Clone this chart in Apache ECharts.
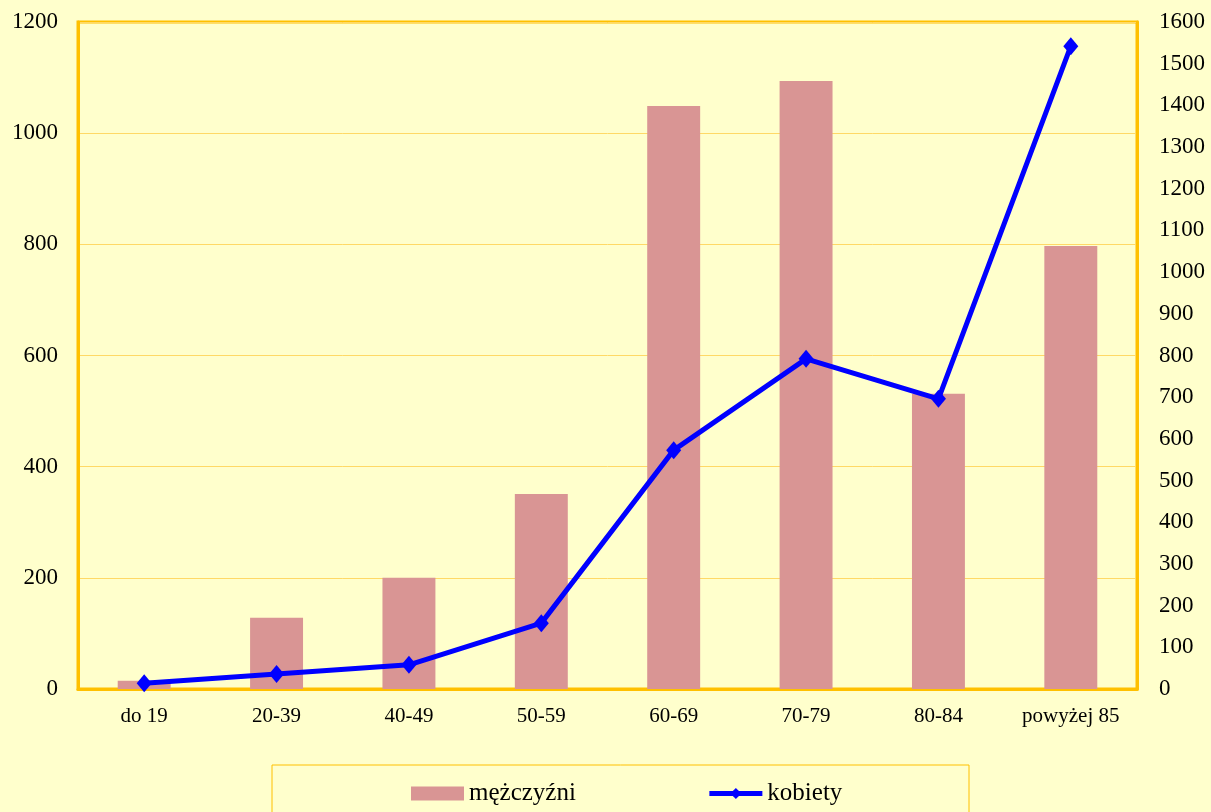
<!DOCTYPE html>
<html><head><meta charset="utf-8">
<script src="https://cdn.jsdelivr.net/npm/echarts@6/dist/echarts.min.js"></script>
<style>html,body{margin:0;padding:0;background:#FFFFCC;}#c{width:1211px;height:812px;}</style>
</head><body><div id="c"></div>
<script>
const categories = ['do 19','20-39','40-49','50-59','60-69','70-79','80-84','powyżej 85'];
const menValues = [15,128,200,351,1049,1094,531,797];
const womenValues = [14,36,58,158,573,792,696,1542];
const leftTicks = {min:0,max:1200,interval:200};
const rightTicks = {min:0,max:1600,interval:100};

const chart = echarts.init(document.getElementById('c'));
const font = 'Liberation Serif';
chart.setOption({
  backgroundColor:'#FFFFCC',
  animation:false,
  grid:{left:78,right:74,top:22,bottom:123,show:true,borderColor:'#FFC000',borderWidth:3},
  legend:{
    top:776,left:406,itemGap:131,itemWidth:53,itemHeight:14,
    textStyle:{fontFamily:font,fontSize:25,color:'#000'},
    data:[{name:'mężczyźni',icon:'rect'},{name:'kobiety',lineStyle:{width:5}}]
  },
  graphic:[{type:'rect',shape:{x:272,y:765,width:697,height:60},style:{fill:'none',stroke:'#FFC000',lineWidth:1},z:-1}],
  xAxis:{type:'category',data:categories,
    axisLine:{lineStyle:{color:'#FFC000',width:3}},axisTick:{show:false},
    axisLabel:{fontFamily:font,fontSize:21,color:'#000',margin:17}},
  yAxis:[
    {type:'value',min:leftTicks.min,max:leftTicks.max,interval:leftTicks.interval,position:'left',
     axisLine:{show:true,lineStyle:{color:'#FFC000',width:3}},axisTick:{show:false},
     splitLine:{lineStyle:{color:'#FFD966',width:1}},
     axisLabel:{fontFamily:font,fontSize:23,color:'#000',margin:20,formatter:v=>String(v)}},
    {type:'value',min:rightTicks.min,max:rightTicks.max,interval:rightTicks.interval,position:'right',
     axisLine:{show:true,lineStyle:{color:'#FFC000',width:3}},axisTick:{show:false},
     splitLine:{show:false},
     axisLabel:{fontFamily:font,fontSize:23,color:'#000',margin:22,formatter:v=>String(v)}}
  ],
  series:[
    {name:'mężczyźni',type:'bar',data:menValues,yAxisIndex:0,barWidth:'40%',
     itemStyle:{color:'#D99594'}},
    {name:'kobiety',type:'line',data:womenValues,yAxisIndex:1,
     symbol:'diamond',symbolSize:[15,18],
     lineStyle:{color:'#0000FF',width:5},itemStyle:{color:'#0000FF'}}
  ]
});
</script></body></html>
